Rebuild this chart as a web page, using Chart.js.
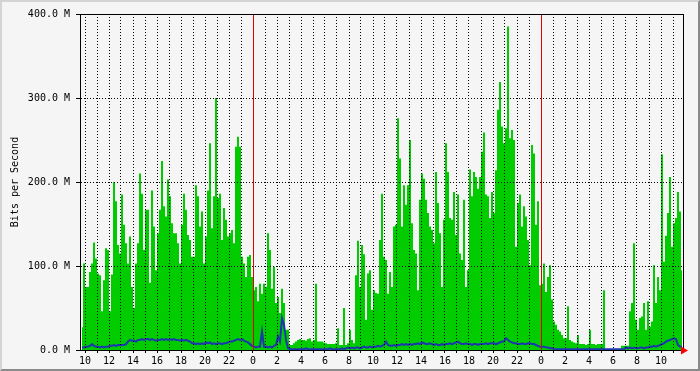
<!DOCTYPE html>
<html><head><meta charset="utf-8">
<script src="https://cdn.jsdelivr.net/npm/chart.js@4/dist/chart.umd.min.js"></script>
<style>
html,body{margin:0;padding:0;background:#f5f5f5;}
#wrap{position:relative;width:700px;height:371px;overflow:hidden;}
canvas{position:absolute;left:0;top:0;}
#frame{position:absolute;left:0;top:0;width:700px;height:371px;box-sizing:border-box;border:2px solid;border-color:#d4d4d4 #8a8a8a #8a8a8a #d4d4d4;pointer-events:none;}
</style></head><body>
<div id="wrap"><canvas id="c" width="700" height="371"></canvas><div id="frame"></div></div>
<script>
// time axis: hours since 00:00 of the first day
const startHour = 9 + 40/60;   // 09:40
const stepMinutes = 10;
const axisMin = 9 + 35/60;
const axisMax = 59 + 50/60;
const midnightHours = [24, 48];
const labelHours = [10,12,14,16,18,20,22,24,26,28,30,32,34,36,38,40,42,44,46,48,50,52,54,56,58];
const labelTexts = ['10','12','14','16','18','20','22','0','2','4','6','8','10','12','14','16','18','20','22','0','2','4','6','8','10'];
const yTicks = [0,100,200,300,400];

// incoming traffic, Mbit/s (green)
const bitsIn = [
27,103,75,75,93,103,128,109,91,89,46,83,121,119,46,90,200,177,125,115,185,149,127,103,135,75,50,103,127,210,186,119,167,167,80,190,147,95,139,167,225,171,159,203,183,151,139,139,127,103,149,
186,167,137,131,111,111,196,183,147,165,103,135,190,246,145,183,300,181,186,131,169,155,135,139,143,127,242,254,242,111,103,87,111,113,87,71,75,58,79,67,79,75,139,119,73,99,56,63,44,73,
56,24,24,6,6,8,10,12,13,12,12,11,13,14,10,12,79,10,10,10,9,8,7,7,7,7,8,26,6,6,50,6,8,24,12,8,89,130,75,125,114,36,91,95,48,71,68,67,131,186,
111,107,67,93,75,147,149,276,228,147,196,173,196,250,151,119,115,71,179,210,204,179,163,147,143,127,212,175,139,75,155,246,212,157,155,188,137,185,115,107,179,75,95,215,183,212,206,192,206,236,
259,185,183,157,188,163,214,286,319,266,246,264,385,252,262,250,123,175,185,147,171,159,131,101,244,234,149,177,77,79,103,69,87,101,60,34,30,24,22,18,14,14,52,12,10,9,8,18,7,7,
7,6,7,24,7,7,6,7,7,7,71,1,1,1,1,1,1,1,1,5,5,5,5,46,56,127,36,24,38,40,56,24,58,28,34,101,56,87,71,233,105,136,163,206,123,151,157,188,165,95
];
// outgoing traffic, Mbit/s (blue)
const bitsOut = [
3,3,4,4,5,7,5,4,4,3, 4,3,4,4,5,5,6,5,6,6, 6,6,7,10,12,11,11,10,12,12, 13,12,13,13,12,13,12,11,12,12,
13,12,13,12,13,12,13,12,12,11, 12,11,12,11,10,8,8,7,8,7, 8,7,9,8,9,7,8,7,8,8, 7,8,8,9,10,10,11,12,13,12,
13,11,10,9,7,5,4,3,4,4, 22,4,4,3,4,3,5,6,16,10, 38,30,12,2,1,1,1,1,1,1, 1,1,2,1,1,1,1,1,1,1,
1,1,1,1,2,1,1,1,1,1, 2,1,2,3,2,3,2,3,3,2, 3,4,3,3,4,3,4,4,5,4, 5,6,10,6,5,5,6,5,6,6,
7,6,7,6,7,6,7,7,8,7, 9,8,7,7,8,7,6,7,6,6, 7,6,7,7,8,7,8,9,10,8, 7,7,8,7,7,6,7,7,6,7,
7,7,8,7,8,8,8,7,8,9, 10,10,14,12,10,9,8,8,7,7, 8,7,7,8,8,7,7,6,5,4, 4,4,3,3,2,2,1,1,1,1,
1,1,1,1,1,1,1,1,1,1, 1,1,1,1,1,1,1,1,1,1, 1,1,1,1,1,1,1,1,1,1, 1,1,3,2,3,2,3,2,2,3,
3,2,3,3,4,4,5,4,5,6, 7,8,10,11,12,13,14,13,6,4, 4
];

const toPoints = arr => arr.map((v, i) => ({x: startHour + (i + 0.5) * stepMinutes / 60, y: v}));
const hourGrid = [];
for (let h = Math.ceil(axisMin); h <= Math.floor(axisMax); h++) {
  if (!midnightHours.includes(h)) hourGrid.push(h);
}

const FONT = {family: 'DejaVu Sans Mono', size: 10};

const overlay = {
  id: 'overlay',
  afterDraw(chart) {
    const {ctx, chartArea: a, scales: {x}} = chart;
    ctx.save();
    ctx.setLineDash([]);
    const top = Math.round(a.top), bottom = Math.round(a.bottom);
    ctx.fillStyle = '#e00000';
    midnightHours.forEach(h => {
      const px = Math.round(x.getPixelForValue(h));
      ctx.fillRect(px, top, 1, bottom - top);
    });
    ctx.fillStyle = '#000';
    ctx.fillRect(Math.round(a.left), top, Math.round(a.right) - Math.round(a.left) + 1, 1);
    ctx.fillRect(Math.round(a.right), top, 1, bottom - top + 1);
    // red arrow at end of time axis
    const ax = Math.round(a.right), ay = bottom + 0.5;
    ctx.fillStyle = '#ff0000';
    ctx.beginPath();
    ctx.moveTo(ax - 2, ay - 4); ctx.lineTo(ax + 5, ay); ctx.lineTo(ax - 2, ay + 4); ctx.closePath();
    ctx.fill();
    ctx.restore();
  }
};

new Chart(document.getElementById('c'), {
  type: 'line',
  data: {
    datasets: [
      {label: 'Out', data: toPoints(bitsOut), borderColor: '#1c36b0', borderWidth: 2, fill: false, pointRadius: 0, tension: 0, order: 0},
      {label: 'In', data: toPoints(bitsIn), borderColor: '#00cc00', backgroundColor: '#00cc00', borderWidth: 0, fill: 'origin', stepped: 'middle', pointRadius: 0, order: 1}
    ]
  },
  options: {
    responsive: false,
    animation: false,
    devicePixelRatio: 1,
    layout: {padding: {top: 14, right: 17, bottom: 0, left: 0}},
    plugins: {legend: {display: false}, tooltip: {enabled: false}},
    scales: {
      x: {
        type: 'linear', min: axisMin, max: axisMax,
        afterFit: s => { s.height = 21; },
        afterBuildTicks: s => { s.ticks = hourGrid.concat(midnightHours).sort((p, q) => p - q).map(v => ({value: v})); },
        grid: {
          color: c => (c.tick && midnightHours.includes(c.tick.value)) ? 'rgba(0,0,0,0)' : '#000',
          tickColor: '#000', lineWidth: 1, z: 1, drawTicks: true, tickLength: 3
        },
        border: {display: true, color: '#000', width: 1, dash: [1, 2], z: 2},
        ticks: {
          autoSkip: false, maxRotation: 0, padding: 2, color: '#000', font: FONT,
          callback: v => { const k = labelHours.indexOf(v); return k >= 0 ? labelTexts[k] : ''; }
        }
      },
      y: {
        type: 'linear', min: 0, max: 400,
        afterFit: s => { s.width = 80; },
        afterBuildTicks: s => { s.ticks = yTicks.map(v => ({value: v})); },
        grid: {color: '#000', lineWidth: 1, z: 1, drawTicks: true, tickLength: 4, tickColor: '#000'},
        border: {display: true, color: '#000', width: 1, dash: [1, 2], z: 2},
        ticks: {padding: 6, color: '#000', font: FONT, callback: v => v.toFixed(1) + ' M'},
        title: {display: true, text: 'Bits per Second', color: '#000', font: FONT, padding: {top: 9, bottom: 0}}
      }
    }
  },
  plugins: [overlay]
});
</script>
</body></html>
